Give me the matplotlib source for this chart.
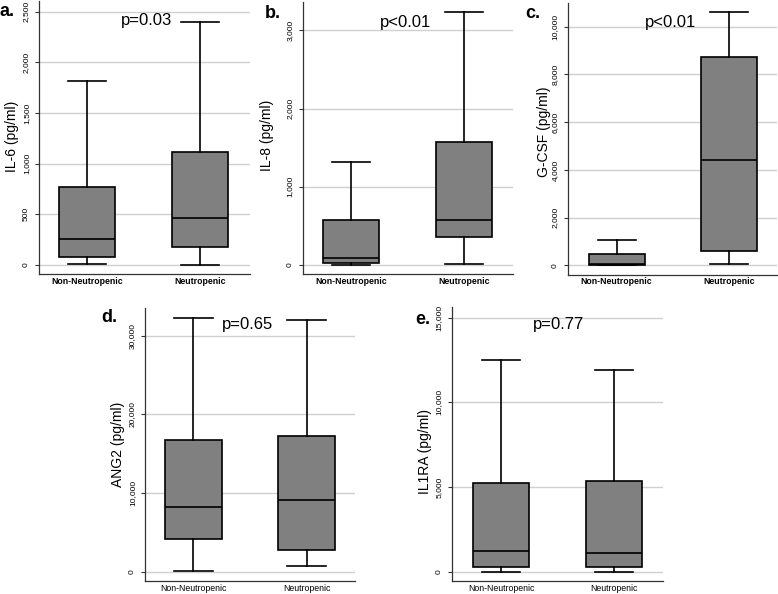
import matplotlib.pyplot as plt
from matplotlib.ticker import FuncFormatter

plt.rcParams['font.family'] = ['Liberation Sans', 'DejaVu Sans']

W, H = 778, 594

groups = ['Non-Neutropenic', 'Neutropenic']

# five-number summaries: [Non-Neutropenic, Neutropenic]
il6_lo = [10, 3]
il6_q1 = [76, 181]
il6_med = [253, 461]
il6_q3 = [772, 1118]
il6_hi = [1815, 2400]

il8_lo = [5, 13]
il8_q1 = [29, 362]
il8_med = [93, 579]
il8_q3 = [575, 1575]
il8_hi = [1311, 3235]

gcsf_lo = [0, 42]
gcsf_q1 = [30, 600]
gcsf_med = [70, 4435]
gcsf_q3 = [490, 8741]
gcsf_hi = [1049, 10630]

ang2_lo = [100, 720]
ang2_q1 = [4155, 2760]
ang2_med = [8260, 9150]
ang2_q3 = [16700, 17245]
ang2_hi = [32275, 32020]

il1ra_lo = [0, 0]
il1ra_q1 = [259, 259]
il1ra_med = [1238, 1085]
il1ra_q3 = [5212, 5348]
il1ra_hi = [12524, 11893]

panels = [
    dict(letter='a.', ylabel='IL-6 (pg/ml)', p='p=0.03',
         stats=(il6_lo, il6_q1, il6_med, il6_q3, il6_hi),
         ticks=[0, 500, 1000, 1500, 2000, 2500], ylim=(-89, 2605),
         box=(39, 250, 1, 274), xlim=(0.571, 2.444),
         letter_xy=(0, 12), ylab_xy=(12, 136), p_xy=(147, 21), bold=True),
    dict(letter='b.', ylabel='IL-8 (pg/ml)', p='p<0.01',
         stats=(il8_lo, il8_q1, il8_med, il8_q3, il8_hi),
         ticks=[0, 1000, 2000, 3000], ylim=(-115, 3362),
         box=(302.7, 513, 2, 274), xlim=(0.569, 2.435),
         letter_xy=(265, 13), ylab_xy=(267, 135), p_xy=(406, 22), bold=True),
    dict(letter='c.', ylabel='G-CSF (pg/ml)', p='p<0.01',
         stats=(gcsf_lo, gcsf_q1, gcsf_med, gcsf_q3, gcsf_hi),
         ticks=[0, 2000, 4000, 6000, 8000, 10000], ylim=(-390, 10994),
         box=(567.7, 777, 3, 274.7), xlim=(0.564, 2.43),
         letter_xy=(525, 13), ylab_xy=(544, 132), p_xy=(671, 22), bold=True),
    dict(letter='d.', ylabel='ANG2 (pg/ml)', p='p=0.65',
         stats=(ang2_lo, ang2_q1, ang2_med, ang2_q3, ang2_hi),
         ticks=[0, 10000, 20000, 30000], ylim=(-1180, 33500),
         box=(145, 355, 308, 581), xlim=(0.574, 2.426),
         letter_xy=(101, 318), ylab_xy=(118, 444), p_xy=(248, 325), bold=False),
    dict(letter='e.', ylabel='IL1RA (pg/ml)', p='p=0.77',
         stats=(il1ra_lo, il1ra_q1, il1ra_med, il1ra_q3, il1ra_hi),
         ticks=[0, 5000, 10000, 15000], ylim=(-548, 15625),
         box=(451.7, 663, 307, 581), xlim=(0.563, 2.437),
         letter_xy=(415, 320), ylab_xy=(425, 451), p_xy=(559, 325), bold=False),
]

fig = plt.figure(figsize=(W / 100, H / 100), dpi=100)
fmt = FuncFormatter(lambda v, pos: f'{int(v):,}')

for pn in panels:
    x0, x1, y0, y1 = pn['box']
    ax = fig.add_axes([x0 / W, 1 - y1 / H, (x1 - x0) / W, (y1 - y0) / H])
    lo, q1, med, q3, hi = pn['stats']
    bstats = [dict(whislo=lo[i], q1=q1[i], med=med[i], q3=q3[i], whishi=hi[i],
                   fliers=[], label=groups[i]) for i in range(2)]
    ax.bxp(bstats, positions=[1, 2], widths=0.5, patch_artist=True,
           showfliers=False,
           boxprops=dict(facecolor='#808080', edgecolor='black', linewidth=1.2),
           medianprops=dict(color='black', linewidth=1.2),
           whiskerprops=dict(color='black', linewidth=1.2),
           capprops=dict(color='black', linewidth=1.2),
           capwidths=0.34, zorder=3)
    ax.set_xlim(*pn['xlim'])
    ax.set_ylim(*pn['ylim'])
    ax.set_yticks(pn['ticks'])
    ax.yaxis.set_major_formatter(fmt)
    ax.grid(axis='y', color='#d0d0d0', linewidth=1.0, zorder=0)
    ax.set_axisbelow(True)
    for s in ['top', 'right']:
        ax.spines[s].set_visible(False)
    for s in ['left', 'bottom']:
        ax.spines[s].set_color('#333333')
        ax.spines[s].set_linewidth(0.9)
    ax.tick_params(axis='y', labelsize=6, length=3, width=0.8, pad=3.5,
                   color='#333333')
    for t in ax.get_yticklabels():
        t.set_rotation(90)
        t.set_va('center')
    ax.tick_params(axis='x', length=0, pad=2)
    ax.set_xticks([1, 2])
    ax.set_xticklabels(groups, fontsize=6.3,
                       fontweight='bold' if pn['bold'] else 'normal')

    lx, ly = pn['letter_xy']
    fig.text(lx / W, 1 - ly / H, pn['letter'], fontsize=13, fontweight='bold',
             ha='left', va='center')
    yx, yy = pn['ylab_xy']
    fig.text(yx / W, 1 - yy / H, pn['ylabel'], fontsize=10, rotation=90,
             ha='center', va='center')
    px, py = pn['p_xy']
    fig.text(px / W, 1 - py / H, pn['p'], fontsize=12, ha='center', va='center')

fig.savefig('out.png', dpi=100)
